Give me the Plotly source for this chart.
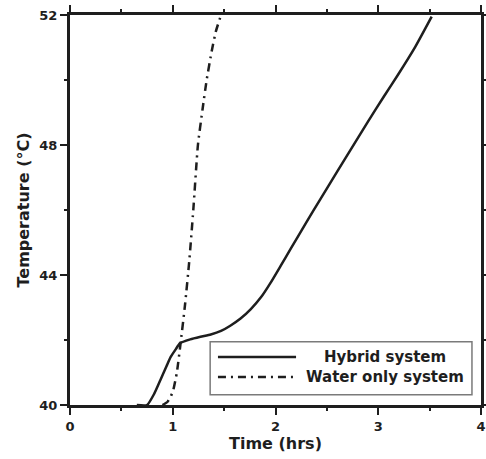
import plotly.graph_objects as go

# Heating curves: temperature vs time for the two storage systems
hybrid_time = [0.65, 0.75, 0.82, 0.88, 0.94, 0.98, 1.03, 1.07, 1.17, 1.27, 1.37,
               1.47, 1.56, 1.66, 1.76, 1.86, 1.95, 2.05, 2.15, 2.30, 2.44, 2.60,
               2.75, 2.90, 3.05, 3.20, 3.36, 3.52]
hybrid_temp = [40.0, 40.0, 40.35, 40.77, 41.2, 41.48, 41.72, 41.9, 42.02, 42.1, 42.17,
               42.28, 42.44, 42.66, 42.95, 43.32, 43.75, 44.28, 44.82, 45.62, 46.35, 47.18,
               47.95, 48.72, 49.47, 50.2, 51.02, 51.95]

water_time = [0.90, 0.95, 1.00, 1.04, 1.08, 1.12, 1.16, 1.20, 1.245, 1.29, 1.33,
              1.38, 1.42, 1.47]
water_temp = [40.0, 40.1, 40.4, 41.0, 42.0, 43.1, 44.4, 46.0, 48.0, 49.1, 50.0,
              50.9, 51.5, 52.0]

series_names = ["Hybrid system", "Water only system"]

x_ticks = [0, 1, 2, 3, 4]
y_ticks = [40, 44, 48, 52]

FONT = "DejaVu Sans, Verdana, sans-serif"
INK = "#1e1e1e"
WATER_DASH = "8px,5px,2px,5px"

fig = go.Figure()
fig.add_trace(go.Scatter(
    x=hybrid_time, y=hybrid_temp, mode="lines", name=series_names[0],
    line=dict(color=INK, width=2.5, shape="spline", smoothing=0.5),
))
fig.add_trace(go.Scatter(
    x=water_time, y=water_temp, mode="lines", name=series_names[1],
    line=dict(color=INK, width=2.5, shape="spline", smoothing=0.5, dash=WATER_DASH),
))

axis_common = dict(
    showline=True, linecolor=INK, linewidth=3, mirror="ticks",
    ticks="outside", ticklen=7, tickwidth=2, tickcolor=INK,
    showgrid=False, zeroline=False, automargin=False,
    tickfont=dict(family=FONT, size=13, color=INK, weight="bold"),
)

fig.update_xaxes(
    range=[0, 4], tickvals=x_ticks,
    minor=dict(ticks="outside", dtick=0.5, ticklen=3, tickwidth=2, tickcolor=INK),
    title=dict(text="Time (hrs)", standoff=3,
               font=dict(family=FONT, size=16, color=INK, weight="bold")),
    **axis_common,
)
fig.update_yaxes(
    range=[40, 52], tickvals=y_ticks,
    minor=dict(ticks="outside", dtick=2, ticklen=3, tickwidth=2, tickcolor=INK),
    title=dict(text="Temperature (°C)", standoff=6,
               font=dict(family=FONT, size=16, color=INK, weight="bold")),
    **axis_common,
)

# Legend box drawn inside the plot area, with long line samples and centred labels
legend_x0, legend_x1 = 0.341, 0.978
legend_y0, legend_y1 = 0.026, 0.162
sample_x0, sample_x1 = 0.36, 0.55
row_y = [0.123, 0.072]
row_dash = ["solid", WATER_DASH]

fig.add_shape(type="rect", xref="paper", yref="paper",
              x0=legend_x0, x1=legend_x1, y0=legend_y0, y1=legend_y1,
              line=dict(color="#7a7a7a", width=1.5), fillcolor="white", layer="above")
for name, yy, dash in zip(series_names, row_y, row_dash):
    fig.add_shape(type="line", xref="paper", yref="paper",
                  x0=sample_x0, x1=sample_x1, y0=yy, y1=yy,
                  line=dict(color=INK, width=2.5, dash=dash), layer="above")
    fig.add_annotation(xref="paper", yref="paper", x=0.767, y=yy,
                       text=name, showarrow=False, xanchor="center", yanchor="middle",
                       font=dict(family=FONT, size=15, color=INK, weight="bold"))

fig.update_layout(
    width=486, height=459,
    margin=dict(l=70, r=5, t=15, b=54),
    paper_bgcolor="white", plot_bgcolor="white",
    showlegend=False,
)

fig.write_html("out.html")
